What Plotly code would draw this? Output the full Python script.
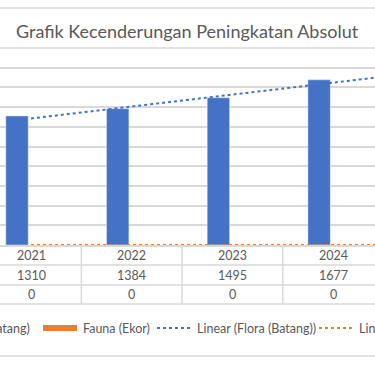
import numpy as np
import plotly.graph_objects as go

# ---------------- data ----------------
years = ["2021", "2022", "2023", "2024"]
flora = [1310, 1384, 1495, 1677]
fauna = [0, 0, 0, 0]
series_names = ["Flora (Batang)", "Fauna (Ekor)"]
trend_names = ["Linear (Flora (Batang))", "Linear (Fauna (Ekor))"]
title_text = "Grafik Kecenderungan Peningkatan Absolut"

BLUE = "#4472C4"
ORANGE = "#ED7D31"
GRID = "#D9D9D9"
TXT = "#595959"
FONT = "Lato"

W, H = 375, 366
PLOT_TOP, PLOT_BOT = 48, 245     # pixel rows of the plot area
CAT_PX = 100.7                   # pixels per category
X0_PX = 31                       # pixel of first category centre


def py(p):
    """pixel row -> paper y"""
    return (PLOT_BOT - p) / (PLOT_BOT - PLOT_TOP)


def px(p):
    return p / W


idx = np.arange(len(years))

fig = go.Figure()
fig.add_bar(x=idx, y=flora, name=series_names[0], marker_color=BLUE,
            showlegend=False)
fig.add_bar(x=idx, y=fauna, name=series_names[1], marker_color=ORANGE,
            showlegend=False)

# linear trendlines (least squares on category index), forward 0.5
xt = np.array([idx[0], idx[-1] + 0.5])
for vals, col in ((flora, BLUE), (fauna, ORANGE)):
    k, b = np.polyfit(idx + 1, vals, 1)
    fig.add_scatter(x=xt, y=k * (xt + 1) + b, mode="lines",
                    line=dict(color=col, width=2, dash="dot"),
                    showlegend=False, hoverinfo="skip")

shapes = []
ann = []

# chart borders (top / bottom) and top gridline
for p in (8, 356, PLOT_TOP):
    shapes.append(dict(type="line", xref="paper", yref="paper",
                       x0=-0.1, x1=1.1, y0=py(p), y1=py(p), layer="below",
                       line=dict(color=GRID, width=1.5)))

# data table
row_lines = [265, 285, 304]
for p in row_lines:
    shapes.append(dict(type="line", xref="paper", yref="paper",
                       x0=-0.1, x1=1.1, y0=py(p), y1=py(p),
                       line=dict(color=GRID, width=1.5)))
for i in range(len(years) - 1):
    shapes.append(dict(type="line", xref="x", yref="paper",
                       x0=i + 0.5, x1=i + 0.5, y0=py(PLOT_BOT), y1=py(304),
                       line=dict(color=GRID, width=1.5)))

row_centres = [255, 275, 294]
rows = [years, [str(v) for v in flora], [str(v) for v in fauna]]
for rc, row in zip(row_centres, rows):
    for i, t in enumerate(row):
        ann.append(dict(x=i, y=py(rc), xref="x", yref="paper", text=t,
                        showarrow=False, xanchor="center", yanchor="middle",
                        font=dict(family=FONT, size=12.5, color=TXT)))

# legend (hand drawn: the chart is cropped on both sides)
LEG_Y = 328
LEG_FONT = dict(family=FONT, size=12.5, color=TXT)
shapes.append(dict(type="rect", xref="paper", yref="paper",
                   x0=px(-80), x1=px(-46), y0=py(LEG_Y + 3), y1=py(LEG_Y - 3),
                   fillcolor=BLUE, line=dict(width=0)))
ann.append(dict(x=px(32), y=py(LEG_Y), xref="paper", yref="paper",
                text=series_names[0], showarrow=False, xanchor="right",
                yanchor="middle", font=LEG_FONT))
shapes.append(dict(type="rect", xref="paper", yref="paper",
                   x0=px(43), x1=px(77), y0=py(LEG_Y + 3), y1=py(LEG_Y - 3),
                   fillcolor=ORANGE, line=dict(width=0)))
ann.append(dict(x=px(81), y=py(LEG_Y), xref="paper", yref="paper",
                text=series_names[1], showarrow=False, xanchor="left",
                yanchor="middle", font=LEG_FONT))
shapes.append(dict(type="line", xref="paper", yref="paper",
                   x0=px(157), x1=px(192), y0=py(LEG_Y), y1=py(LEG_Y),
                   line=dict(color=BLUE, width=2, dash="dot")))
ann.append(dict(x=px(195), y=py(LEG_Y), xref="paper", yref="paper",
                text=trend_names[0], showarrow=False, xanchor="left",
                yanchor="middle", font=LEG_FONT))
shapes.append(dict(type="line", xref="paper", yref="paper",
                   x0=px(319), x1=px(354), y0=py(LEG_Y), y1=py(LEG_Y),
                   line=dict(color=ORANGE, width=2, dash="dot")))
ann.append(dict(x=px(357), y=py(LEG_Y), xref="paper", yref="paper",
                text=trend_names[1], showarrow=False, xanchor="left",
                yanchor="middle", font=LEG_FONT))

# title
ann.append(dict(x=px(187.5), y=py(31), xref="paper", yref="paper",
                text=title_text, showarrow=False, xanchor="center",
                yanchor="middle", font=dict(family=FONT, size=18, color=TXT)))

fig.update_layout(
    width=W, height=H,
    margin=dict(l=0, r=0, t=PLOT_TOP, b=H - PLOT_BOT, pad=0),
    paper_bgcolor="white", plot_bgcolor="white",
    barmode="group", bargap=0.444, bargroupgap=0.2,
    showlegend=False,
    xaxis=dict(range=[-X0_PX / CAT_PX, (W - X0_PX) / CAT_PX],
               showticklabels=False, showgrid=False, zeroline=False,
               showline=True, linecolor=GRID, linewidth=1.5, ticks=""),
    yaxis=dict(range=[0, 2000], dtick=200, showticklabels=False,
               showgrid=True, gridcolor=GRID, gridwidth=1.5,
               zeroline=False, showline=False, ticks=""),
    shapes=shapes, annotations=ann,
)

fig.write_html(
    "out.html",
    config={"displayModeBar": False},
    post_script="document.body.style.margin='0';document.body.style.overflow='hidden';",
)
